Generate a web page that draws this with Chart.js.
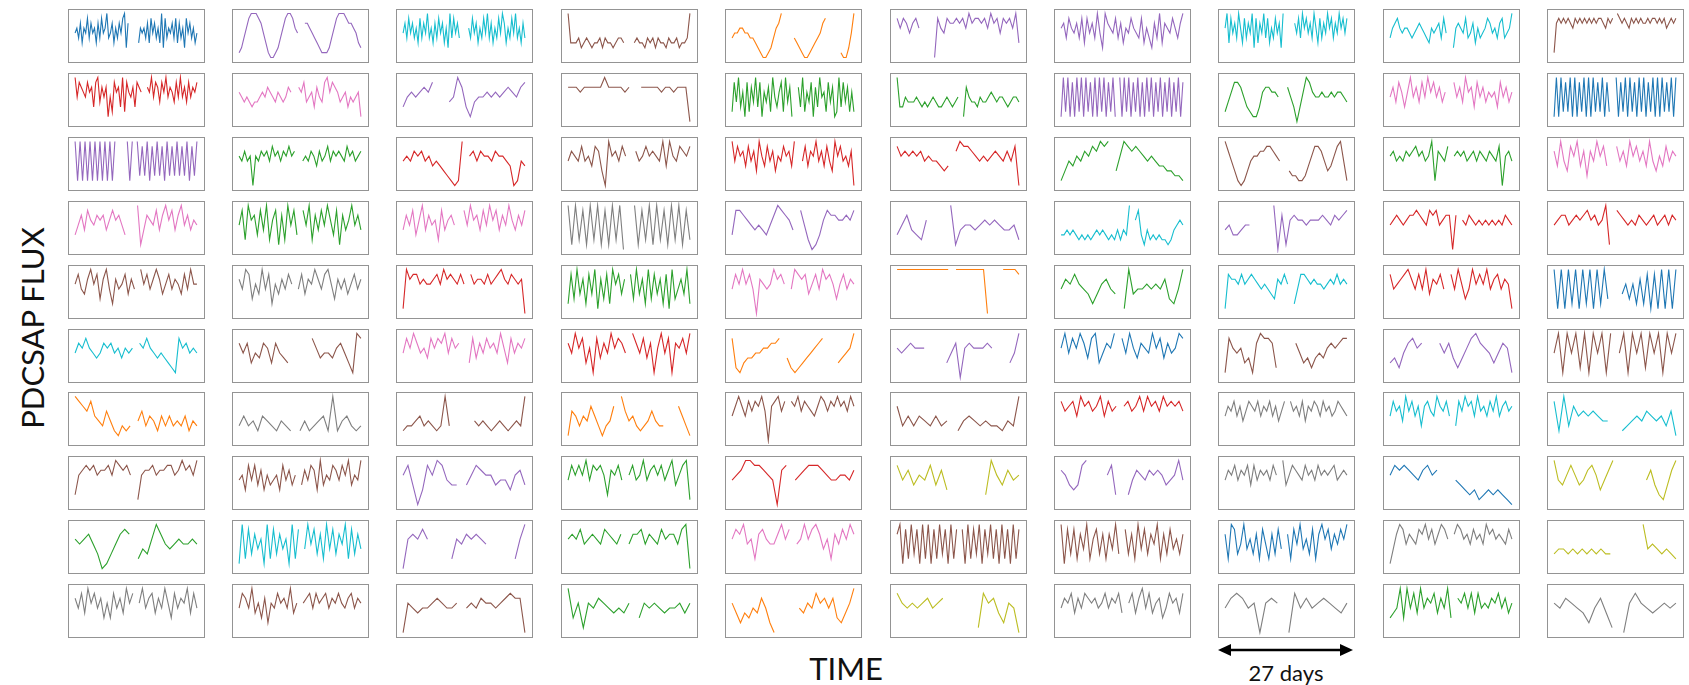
<!DOCTYPE html>
<html lang="en">
<head>
<meta charset="UTF-8">
<title>PDCSAP flux light curves</title>
<script src="https://cdn.jsdelivr.net/npm/chart.js@4"></script>
<style>
  body {
    margin: 0;
    width: 1689px;
    height: 685px;
    background: #fff;
    position: relative;
    overflow: hidden;
    font-family: Lato, 'Open Sans', sans-serif;
    color: #111;
  }
  .panel {
    position: absolute;
    width: 137px;
    height: 54px;
    border: 1.5px solid #949494;
    box-sizing: border-box;
    background: #fff;
  }
  .panel canvas { display: block; }
  .lab {
    position: absolute;
    white-space: nowrap;
    transform: translate(-50%, -50%);
  }
  #ylab { left: 32px; top: 328px; font-size: 31px; transform: translate(-50%, -50%) rotate(-90deg); }
  #xlab { left: 846px; top: 668px; font-size: 31px; }
  #days { left: 1286px; top: 672px; font-size: 22px; }
  #arrow { position: absolute; left: 0; top: 0; }
</style>
</head>
<body>
  <div class="lab" id="ylab">PDCSAP FLUX</div>
  <div class="lab" id="xlab">TIME</div>
  <div class="lab" id="days">27 days</div>
  <svg id="arrow" width="1689" height="685">
    <line x1="1228" y1="650" x2="1343" y2="650" stroke="#000" stroke-width="2.5"/>
    <polygon points="1218,650 1231,644 1231,656" fill="#000"/>
    <polygon points="1353,650 1340,644 1340,656" fill="#000"/>
  </svg>

<script>
// matplotlib tab10 colours, one letter each
const COLORS = {
  b: '#1f77b4', o: '#ff7f0e', g: '#2ca02c', r: '#d62728', p: '#9467bd',
  n: '#8c564b', k: '#e377c2', y: '#7f7f7f', l: '#bcbd22', c: '#17becf'
};

// colour of each panel, row by row
const rowColors = [
  'bpcnoppccn',
  'rkpnggpgkb',
  'pgrnrrgngk',
  'kgkyppcprr',
  'nyrgkogcrb',
  'cnkropbnpn',
  'oynonnrycc',
  'nnpgrlpybl',
  'gcpgknnbyl',
  'ynngolyygy'
];

// normalised flux (0 = bottom, 9 = top), '_' = no data
const row1 = [
  '5647365847563748569457364758927_____3656473857463928465748374628574635',
  '1246899987531001246899865__776543211124689998776532',
  '5748574638475946374857362948574____6485736485947364859736485946374',
  '9333423432334243323443___3433243424332433423349',
  '45566554432100124679____4321001234578_____100259',
  '86875786____0865877878697887869785878693',
  '674865748385749529765847365865483642749376586479',
  '6938574963847592837594836485729_____7584968574963847596847596858',
  '467865665456765436567485__2676584573645687564784569',
  '17878787687878787878876878_98787687878778788787867878'
];
const row2 = [
  '958765867389475715286739286573876__7695874869576485957485768',
  '654543445657654654576__7684563754896876456354561',
  '35656768___4597314556565676578',
  '7776777779777767__7777767767770',
  '28493618274938164729536829471__739264817395628471293847262',
  '93354445434345433454345_175443544565455434554',
  '1929181929192819192918291_91929182918192918291829182918',
  '246887532113677665__75303698655655656654',
  '57486369574859685746__857496738574656385746',
  '1919282919182919192829182__918291928192918291919282919'
];
const row3 = [
  '91919191919191919____919_9282918292819282928291829',
  '657560657675867576867__5657647568576765867567',
  '56576756454321019_6757665766540154',
  '576585648730967586__75686765949658768',
  '958674857396485736586749__58476957485396856470',
  '86767675655434_79887656567657580',
  '1354657687989_369878765654433221',
  '975310135667788765__3221124688753468951',
  '6756576786756917658_6767567576576580675',
  '74953869472759684__8574968574953648576'
];
const row4 = [
  '35748657674686753___91476584796847957465',
  '58296738492681729583_85927485963817469574',
  '47583694756284675__85967485968475964758',
  '9192819291819290__9182919281929182',
  '38876545435798764_852013687766768',
  '3574326____914554565654452',
  '334343232323434323242439_68314232322124565',
  '4533455_____9071676656667657678',
  '567656778765878567707_6576565656565765',
  '5677567678675691_87656576567567576'
];
const row5 = [
  '68547968379527568475_9685797468576485966',
  '75983649582647586_58476975896375746857',
  '1978867667869787686_86776867897687670',
  '28394728491738296847_839472938472819357492',
  '5869685076569786_5987846859786368576',
  '99999999999999_999999990___99998',
  '5768654246754_19455656573259',
  '18776867876565437686_25887676656768676',
  '8567897585947685_859635968695785761',
  '9191929192919293___4636272818191919'
];
const row6 = [
  '57686545767564656_76865454321867565',
  '7573547637543_____8645546753198',
  '58697564868795867__38475867596385768',
  '75968361847596875_97584716958176859',
  '8213445566778_4212345678___34569',
  '6567666____35706766676___359',
  '695869748935769_85964765968475698',
  '18656341798872____75342454676788',
  '34257867___75742468976535761',
  '59195929195919_59195929591959'
];
const row7 = [
  '987685436421323_4635425353435243',
  '353425432432_24234529245323',
  '233453432393_____4343234323439',
  '1653547531347_964532346433___7531',
  '57975868796078968_87968765798687978697',
  '7353543534_245434332439',
  '867859786795867_7867969786978786',
  '576857468768576857468_86758476875867568765',
  '58674968573786597685_3869785967586957867',
  '829375656544__234546545361'
];
const row8 = [
  '2678786778698786_16778677886797869',
  '5638584736456385746_47587394658758694659',
  '684038698544_4687664553674',
  '5868695878627685_685695786857946891',
  '5679988765078_56788876556657',
  '8574658473______2964756',
  '7643489____682__25765767645695',
  '57685768485767586_946876586758676785676',
  '68787657867___5432312323210',
  '954686457863579_______57421479'
];
const row9 = [
  '6567530135787_24369754565565',
  '19283746192837461928_4958372948375928374',
  '067686____26576765_____269',
  '67685676587657_5778576586775890',
  '6879562786557968_5696897462758697',
  '7918293819291829381928_819283918392819281928',
  '9183827492683727493_8372948375927384637',
  '7298359463728527384_72859463827968475869',
  '1479857658796857986_7986758675978676586',
  '3443434343433______94543432'
];
const row10 = [
  '7584968573638574968_6957847596385769485',
  '5875946372658675946_6785867857686578576',
  '065455676556_5657665678770',
  '9361657654546_36565455646',
  '64243547520_____54658675732469',
  '8656567567______186742650',
  '5768475876756857684_68479584673586748',
  '5787560676_08575676546',
  '3459395849576847593_76858485657685746',
  '65765425741_0686545656'
];

const rows = [row1, row2, row3, row4, row5, row6, row7, row8, row9, row10];

const LEFT = 67.5, COL_STEP = 164.4, TOP = 9, ROW_STEP = 63.9;

function parseCurve(s) {
  return [...s].map((ch, i) => ({ x: i, y: ch === '_' ? null : Number(ch) }));
}

rows.forEach((row, r) => {
  row.forEach((curve, c) => {
    const box = document.createElement('div');
    box.className = 'panel';
    box.style.left = (LEFT + c * COL_STEP) + 'px';
    box.style.top = (TOP + r * ROW_STEP) + 'px';
    const cv = document.createElement('canvas');
    cv.width = 134;
    cv.height = 51;
    box.appendChild(cv);
    document.body.appendChild(box);

    const pts = parseCurve(curve);
    const n = pts.length - 1;
    new Chart(cv, {
      type: 'line',
      data: {
        datasets: [{
          data: pts,
          borderColor: COLORS[rowColors[r][c]],
          borderWidth: 1.1,
          pointRadius: 0,
          tension: 0,
          spanGaps: false
        }]
      },
      options: {
        responsive: false,
        animation: false,
        events: [],
        layout: { padding: 0 },
        plugins: { legend: { display: false }, tooltip: { enabled: false } },
        scales: {
          x: { type: 'linear', display: false, min: -0.05 * n, max: n * 1.05 },
          y: { display: false, min: -0.7, max: 9.7 }
        }
      }
    });
  });
});
</script>
</body>
</html>
